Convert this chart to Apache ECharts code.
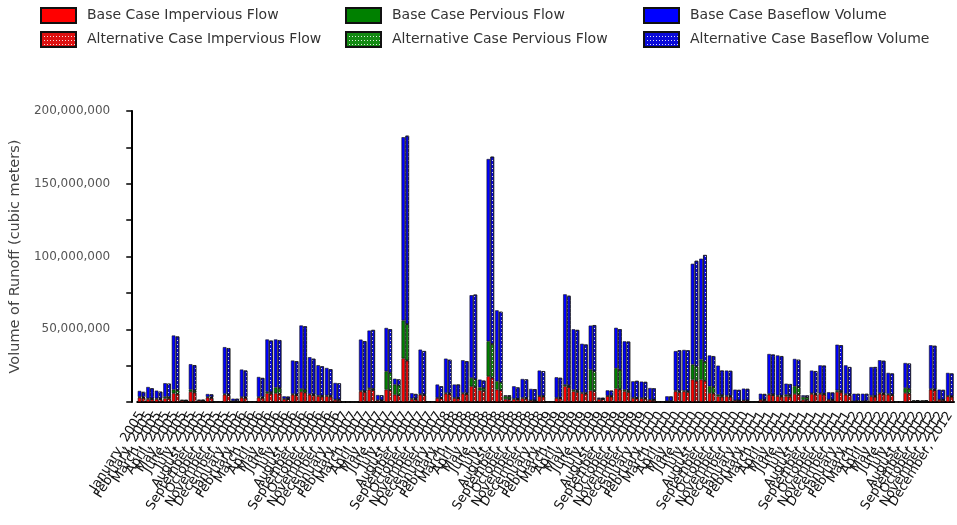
<!DOCTYPE html>
<html>
<head>
<meta charset="utf-8">
<script src="https://cdn.jsdelivr.net/npm/echarts@6/dist/echarts.min.js"></script>
<style>
html,body{margin:0;padding:0;background:#fff;}
#chart{width:957px;height:525px;}
</style>
</head>
<body>
<div id="chart"></div>
<script>
// Category labels
const monthNames = ['January','February','March','April','May','June','July','August','September','October','November','December'];
const years = [2005, 2006, 2007, 2008, 2009, 2010, 2011, 2012];
const categories = [];
years.forEach(function (y) { monthNames.forEach(function (m) { categories.push(m + ', ' + y); }); });

// Values in millions of cubic meters (one row per year, 12 months each)
const baseImpervious = [
  3,2,2,2.5,6,1,7,1,3,0,5,0.5,
  3,0,3,6,6,2,5,7,5,4,4,1.5,
  0,0,7.3,8.5,1,8.5,5,30,2,5,0,2.7,
  5.7,2.7,5.7,10.8,8,17.7,8.5,2,2,2.5,1,4,
  0,2.7,10.8,7.3,6,7.8,2,4,9.2,7.3,2.7,2.5,
  1.5,0,0.5,7.3,7.3,15.4,15.4,6.2,3.9,3.9,1,1,
  0,1.5,5,4,3.9,5.5,1.5,5.5,5.5,1.5,7,5,
  0.5,0.5,3.9,5.7,5,0,6.2,0.5,0.5,8.5,1.5,3.9
];
const basePervious = [
  0.5,0.5,0.5,1,2.5,0.1,1.5,0.1,0.5,0,0.5,0.2,
  0.5,0,0.5,1,4,0.3,0.5,2,0.5,0.5,0.5,0.3,
  0,0,0.5,1,0.3,12.6,7,26,0.5,0.5,0,0.3,
  0.5,0.3,0.5,5.7,2,24,5.7,2,0.3,0.5,0.2,0.3,
  0,0.3,1,1,0.5,14.4,0.3,0.3,14,1,0.3,0.3,
  0.2,0,0.1,0.5,0.5,10.3,13.8,4.6,1,0.5,0.2,0.2,
  0,0.2,0.5,0.5,1,5.3,2,0.5,0.5,0.2,1,0.5,
  0.1,0.1,0.5,0.5,0.5,0,3.4,0.3,0.2,0.5,0.2,0.3
];
const baseBaseflow = [
  4.1,7.8,5.3,9.4,37.2,0.3,17.5,0.5,2.0,0,32.2,1.6,
  18.8,0,13.7,36,33,1.6,23,43.6,25.3,20.8,18.9,11.3,
  0,0,35.1,39.6,3.5,29.8,4,126,3.5,30.5,0,9,
  23.6,9,22.5,56.9,5.4,125.3,48.8,0.6,8.5,12.8,7.8,17.3,
  0,14,62.2,41.7,33.5,30.3,0.7,3.7,27.8,33.4,11.2,11.2,
  7.9,0,3.3,27.2,28,69.3,69.3,21.2,20.1,17.2,7.3,8,
  0,4,27.5,27.5,7.7,18.8,1.1,15.6,19.2,5,31.4,19.7,
  5.1,5.1,19.6,22.5,14.5,0,17.2,0.3,0.3,30,6.8,15.8
];
const altImpervious = [
  2.8,1.9,1.9,2.4,5.7,0.9,6.6,0.9,2.8,0,4.7,0.5,
  2.8,0,2.8,5.7,5.7,1.9,4.7,6.6,4.7,3.8,3.8,1.4,
  0,0,6.9,8.1,0.9,8.1,4.7,28.5,1.9,4.7,0,2.6,
  5.4,2.6,5.4,10.3,7.6,16.8,8.1,1.9,1.9,2.4,0.9,3.8,
  0,2.6,10.3,6.9,5.7,7.4,1.9,3.8,8.7,6.9,2.6,2.4,
  1.4,0,0.5,6.9,6.9,14.6,14.6,5.9,3.7,3.7,0.9,0.9,
  0,1.4,4.7,3.8,3.7,5.2,1.4,5.2,5.2,1.4,6.6,4.7,
  0.5,0.5,3.7,5.4,4.7,0,5.9,0.5,0.5,8.1,1.4,3.7
];
const altPervious = [
  0.5,0.5,0.5,1,2.4,0.1,1.4,0.1,0.5,0,0.5,0.2,
  0.5,0,0.5,1,3.8,0.3,0.5,1.9,0.5,0.5,0.5,0.3,
  0,0,0.5,1,0.3,12,6.7,25,0.5,0.5,0,0.3,
  0.5,0.3,0.5,5.4,1.9,23,5.4,1.9,0.3,0.5,0.2,0.3,
  0,0.3,1,1,0.5,13.7,0.3,0.3,13.3,1,0.3,0.3,
  0.2,0,0.1,0.5,0.5,9.8,13.1,4.4,1,0.5,0.2,0.2,
  0,0.2,0.5,0.5,1,5,1.9,0.5,0.5,0.2,1,0.5,
  0.1,0.1,0.5,0.5,0.5,0,3.2,0.3,0.2,0.5,0.2,0.3
];
const altBaseflow = [
  3.6,7.0,4.7,9.2,36.9,0.3,17.3,0.5,1.9,0,31.8,1.5,
  18.3,0,13.2,35.5,33,1.5,22.8,43.5,24.5,20.2,18.2,11.1,
  0,0,34.4,40.4,3.4,29.9,4.1,129.5,3.1,29.8,0,7.9,
  23.1,9.1,22.1,58.1,5.2,128.8,48.5,0.7,7.8,12.6,7.7,17.1,
  0,13.7,61.7,41.6,33.3,31.7,0.7,3.7,28,33.6,11.6,11.1,
  7.8,0,3.2,28.1,28.1,72.6,73.3,21.2,16.9,17.2,7.2,7.9,
  0,3.9,27.4,27.2,7.6,18.8,1.2,15.5,19.3,4.9,31.4,18.8,
  5.0,5.0,19.8,22.4,14.4,0,17.3,0.3,0.3,30,6.7,15.6
];
const yTickValues = [50, 100, 150, 200]; // labelled ticks, millions

const seriesNames = [
  'Base Case Impervious Flow', 'Base Case Pervious Flow', 'Base Case Baseflow Volume',
  'Alternative Case Impervious Flow', 'Alternative Case Pervious Flow', 'Alternative Case Baseflow Volume'
];

const decal = {
  symbol: 'rect',
  symbolSize: 1,
  color: 'rgba(255,255,255,0.85)',
  dashArrayX: [1, 2],
  dashArrayY: [1, 3],
  rotation: 0
};

function mkSeries(name, data, stack, color, withDecal) {
  const itemStyle = { color: color, borderColor: '#111', borderWidth: 0.6 };
  if (withDecal) itemStyle.decal = decal;
  return {
    name: name, type: 'bar', stack: stack, data: data,
    barGap: '8%', barCategoryGap: '12%',
    itemStyle: itemStyle,
    emphasis: { disabled: true },
    animation: false
  };
}

const chart = echarts.init(document.getElementById('chart'), null, { renderer: 'canvas' });
const legendText = { fontFamily: 'DejaVu Sans', fontSize: 14, lineHeight: 16, color: '#333', padding: [0, 0, 0, 6] };
function mkLegend(left, names) {
  return {
    orient: 'vertical', left: left, top: 2, itemWidth: 35, itemHeight: 15, itemGap: 7,
    icon: 'rect',
    data: names, textStyle: legendText, selectedMode: false
  };
}
chart.setOption({
  animation: false,
  backgroundColor: '#fff',
  legend: [
    mkLegend(35, [seriesNames[0], seriesNames[3]]),
    mkLegend(340, [seriesNames[1], seriesNames[4]]),
    mkLegend(638, [seriesNames[2], seriesNames[5]])
  ],
  grid: { left: 136, right: 3, top: 111, bottom: 123, containLabel: false },
  xAxis: {
    type: 'category', data: categories,
    axisLine: { lineStyle: { color: '#000', width: 2 } },
    axisTick: { alignWithLabel: true, length: 7, lineStyle: { color: '#000', width: 2 } },
    axisLabel: { interval: 0, rotate: 58, margin: 11, fontFamily: 'DejaVu Sans', fontSize: 13, color: '#111' }
  },
  yAxis: {
    type: 'value', min: 0, max: 200, interval: 25, offset: 5,
    name: 'Volume of Runoff (cubic meters)', nameLocation: 'middle', nameGap: 100,
    nameTextStyle: { fontFamily: 'DejaVu Sans', fontSize: 14.5, color: '#444' },
    axisLine: { show: true, lineStyle: { color: '#000', width: 2 } },
    axisTick: { show: true, length: 6, lineStyle: { color: '#000', width: 1.5 } },
    splitLine: { show: false },
    axisLabel: {
      margin: 22, fontFamily: 'DejaVu Sans', fontSize: 12, color: '#555',
      formatter: function (v) { return yTickValues.indexOf(v) >= 0 ? (v * 1000000).toLocaleString('en-US') : ''; }
    }
  },
  series: [
    mkSeries(seriesNames[0], baseImpervious, 'base', '#ff0000', false),
    mkSeries(seriesNames[1], basePervious, 'base', '#008000', false),
    mkSeries(seriesNames[2], baseBaseflow, 'base', '#0000ff', false),
    mkSeries(seriesNames[3], altImpervious, 'alt', '#dd1111', true),
    mkSeries(seriesNames[4], altPervious, 'alt', '#138a13', true),
    mkSeries(seriesNames[5], altBaseflow, 'alt', '#0a0ad8', true)
  ]
});
</script>
</body>
</html>
